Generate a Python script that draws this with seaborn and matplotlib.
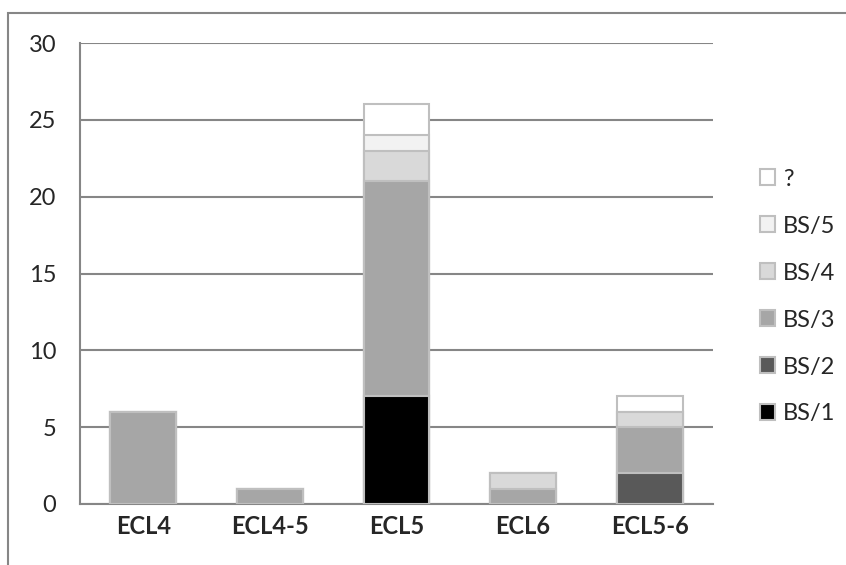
import numpy as np
import pandas as pd
import seaborn as sns
import matplotlib.pyplot as plt
from matplotlib.patches import Patch, Rectangle

# Data
categories = ["ECL4", "ECL4-5", "ECL5", "ECL6", "ECL5-6"]
series = ["BS/1", "BS/2", "BS/3", "BS/4", "BS/5", "?"]
bs1 = [0, 0, 7, 0, 0]
bs2 = [0, 0, 0, 0, 2]
bs3 = [6, 1, 14, 1, 3]
bs4 = [0, 0, 2, 1, 1]
bs5 = [0, 0, 1, 0, 0]
unknown = [0, 0, 2, 0, 1]
colors = ["#000000", "#595959", "#a6a6a6", "#d9d9d9", "#f2f2f2", "#ffffff"]

sns.set_style("white")
plt.rcParams["font.family"] = ["Lato", "DejaVu Sans"]

df = pd.DataFrame({"cat": categories, "BS/1": bs1, "BS/2": bs2, "BS/3": bs3,
                   "BS/4": bs4, "BS/5": bs5, "?": unknown})
cum = df[series].cumsum(axis=1)

fig = plt.figure(figsize=(8.46, 5.65), dpi=100)
ax = fig.add_axes([80/846, 1-504/565, 633/846, 461/565])

# draw cumulative totals, tallest first so lower layers sit on top
for s, c in reversed(list(zip(series, colors))):
    vals = cum[s].replace(0, np.nan)
    sns.barplot(x=df["cat"], y=vals, color=c, width=0.52, edgecolor="#bfbfbf",
                linewidth=1.5, saturation=1, ax=ax, zorder=3)

ax.set_ylim(0, 30)
ax.set_xlim(-0.5, 4.5)
ax.set_yticks(range(0, 31, 5))
ax.yaxis.grid(True, color="#868686", linewidth=1.5, zorder=0)
ax.set_axisbelow(True)
ax.set_xlabel("")
ax.set_ylabel("")
for side in ["top", "right"]:
    ax.spines[side].set_visible(False)
for side in ["left", "bottom"]:
    ax.spines[side].set_color("#868686")
    ax.spines[side].set_linewidth(1.5)

ax.set_xticks(range(5))
ax.set_xticklabels(categories, fontsize=17, fontweight="bold")
ax.tick_params(axis="x", which="major", length=0, pad=8)
ax.set_xticks(np.arange(-0.5, 5, 1), minor=True)
ax.tick_params(axis="x", which="minor", length=7, width=1.5, color="#868686", direction="out")
ax.tick_params(axis="y", length=7, width=1.5, color="#868686", labelsize=17, pad=10)

handles = [Patch(facecolor=c, edgecolor="#bfbfbf", linewidth=1.5, label=s)
           for s, c in reversed(list(zip(series, colors)))]
ax.legend(handles=handles, loc="center left", bbox_to_anchor=(1.04, 0.45),
          frameon=False, fontsize=17, handlelength=0.65, handleheight=0.65,
          handletextpad=0.35, labelspacing=1.1)

fig.patches.append(Rectangle((8/846, -0.1), 1.2, 1.1 - 13/565,
                             transform=fig.transFigure, fill=False,
                             edgecolor="#868686", linewidth=1.5))

fig.savefig("out.png", dpi=100)
